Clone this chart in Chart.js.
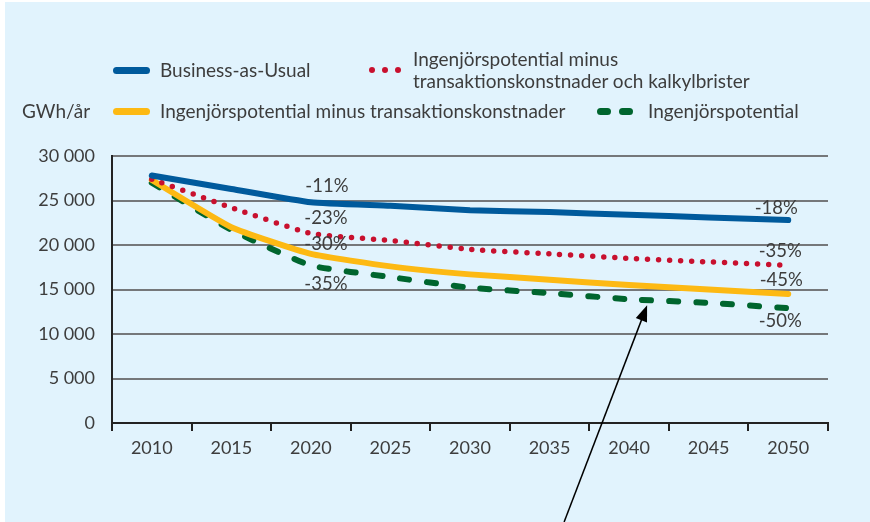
<!DOCTYPE html>
<html>
<head>
<meta charset="utf-8">
<script src="https://cdn.jsdelivr.net/npm/chart.js@4/dist/chart.umd.min.js"></script>
<style>
    body { margin: 0; background: #fff; font-family: Lato, sans-serif; color: #3d3d3d; }
    #wrap { position: relative; width: 870px; height: 522px; overflow: hidden; }
    #bg { position: absolute; left: 5px; top: 2px; right: 0; bottom: 0; background: #e1f3fd; }
    #box { position: absolute; left: 0; top: 0; width: 870px; height: 522px; }
    .lg { position: absolute; font-size: 19px; line-height: 22px; white-space: nowrap; }
    .sym { position: absolute; height: 7px; border-radius: 4px; }
    .dot { position: absolute; width: 6px; height: 6px; border-radius: 3px; background: #c8102e; }
</style>
</head>
<body>
<div id="wrap">
    <div id="bg"></div>
    <div id="box"><canvas id="chart"></canvas></div>

    <!-- legend -->
    <div class="sym" style="left:113px; top:67px; width:37px; background:#005a9c;"></div>
    <div class="lg" style="left:160px; top:59px;">Business-as-Usual</div>

    <div class="dot" style="left:369px; top:67px;"></div>
    <div class="dot" style="left:382px; top:67px;"></div>
    <div class="dot" style="left:395px; top:67px;"></div>
    <div class="lg" style="left:413px; top:48px;">Ingenjörspotential minus<br>transaktionskonstnader och kalkylbrister</div>

    <div class="lg" style="left:22px; top:100px;">GWh/år</div>
    <div class="sym" style="left:113px; top:108px; width:37px; background:#fdb913;"></div>
    <div class="lg" style="left:160px; top:100px;">Ingenjörspotential minus transaktionskonstnader</div>

    <div class="sym" style="left:597px; top:108px; width:14px; background:#00652e;"></div>
    <div class="sym" style="left:619px; top:108px; width:14px; background:#00652e;"></div>
    <div class="lg" style="left:648px; top:100px;">Ingenjörspotential</div>
</div>

<script>
// data (GWh/år)
const years = ['2010', '2015', '2020', '2025', '2030', '2035', '2040', '2045', '2050'];
const bau = [27800, 26300, 24800, 24400, 23900, 23700, 23400, 23100, 22800];
const minusTransKalk = [27400, 24200, 21300, 20500, 19500, 19000, 18500, 18100, 17700];
const minusTrans = [27300, 22000, 19000, 17600, 16700, 16100, 15500, 15000, 14500];
const ingenjor = [27000, 21700, 17700, 16400, 15200, 14600, 13900, 13500, 12900];
const yTicks = [0, 5000, 10000, 15000, 20000, 25000, 30000];

// procentetiketter: [serie, index, text]
const pctLabels = [
    [0, 2, '-11%'], [1, 2, '-23%'], [2, 2, '-30%'], [3, 2, '-35%'],
    [0, 8, '-18%'], [1, 8, '-35%'], [2, 8, '-45%'], [3, 8, '-50%']
];
// förskjutning i px för varje etikett
const pctOffset = [
    [16, -16], [15, -15], [15, -10], [15, 19],
    [-12, -12], [-8, -14], [-7, -14], [-8, 13]
];

const textColor = '#3d3d3d';

const labelPlugin = {
    id: 'pctLabels',
    afterDatasetsDraw(chart) {
        const ctx = chart.ctx;
        const x = chart.scales.x, y = chart.scales.y;
        ctx.save();
        ctx.font = '18.5px Lato';
        ctx.fillStyle = textColor;
        ctx.textAlign = 'center';
        ctx.textBaseline = 'middle';
        pctLabels.forEach((l, i) => {
            const v = chart.data.datasets[l[0]].data[l[1]];
            ctx.fillText(l[2], x.getPixelForValue(l[1]) + pctOffset[i][0], y.getPixelForValue(v) + pctOffset[i][1]);
        });

        // pil mot Ingenjörspotential-linjen
        const tipX = x.getPixelForValue(6) + 18;
        const tipY = y.getPixelForValue(ingenjor[6]) + 6;
        const tailX = tipX - 83;
        const tailY = chart.height;
        const ang = Math.atan2(tipY - tailY, tipX - tailX);
        ctx.strokeStyle = '#000';
        ctx.fillStyle = '#000';
        ctx.lineWidth = 1.5;
        ctx.beginPath();
        ctx.moveTo(tailX, tailY);
        ctx.lineTo(tipX - 14 * Math.cos(ang), tipY - 14 * Math.sin(ang));
        ctx.stroke();
        ctx.beginPath();
        ctx.moveTo(tipX, tipY);
        ctx.lineTo(tipX - 16 * Math.cos(ang) + 6 * Math.sin(ang), tipY - 16 * Math.sin(ang) - 6 * Math.cos(ang));
        ctx.lineTo(tipX - 16 * Math.cos(ang) - 6 * Math.sin(ang), tipY - 16 * Math.sin(ang) + 6 * Math.cos(ang));
        ctx.closePath();
        ctx.fill();
        ctx.restore();
    }
};

const ctx = document.getElementById('chart').getContext('2d');
const chart = new Chart(ctx, {
    type: 'line',
    data: {
        labels: years,
        datasets: [{
            label: 'Business-as-Usual',
            data: bau,
            borderColor: '#005a9c',
            borderWidth: 6,
            borderCapStyle: 'round'
        }, {
            label: 'Ingenjörspotential minus transaktionskonstnader och kalkylbrister',
            data: minusTransKalk,
            borderColor: '#c8102e',
            borderWidth: 5.5,
            borderDash: [0, 11],
            borderCapStyle: 'round'
        }, {
            label: 'Ingenjörspotential minus transaktionskonstnader',
            data: minusTrans,
            borderColor: '#fdb913',
            borderWidth: 6,
            borderCapStyle: 'round'
        }, {
            label: 'Ingenjörspotential',
            data: ingenjor,
            borderColor: '#00652e',
            borderWidth: 6,
            borderDash: [9, 18],
            borderCapStyle: 'round'
        }]
    },
    options: {
        responsive: true,
        maintainAspectRatio: false,
        animation: false,
        layout: { padding: { top: 156, right: 42, left: 0, bottom: 0 } },
        elements: { point: { radius: 0 }, line: { tension: 0.15 } },
        plugins: { legend: { display: false }, tooltip: { enabled: false } },
        scales: {
            x: {
                offset: true,
                afterFit(s) { s.height = 99; },
                grid: { drawOnChartArea: false, offset: true, tickLength: 8, color: '#222', lineWidth: 2 },
                border: { color: '#222', width: 2 },
                ticks: { color: textColor, font: { family: 'Lato', size: 18 }, padding: 6, maxRotation: 0 }
            },
            y: {
                min: 0,
                max: 30000,
                afterFit(s) { s.width = 112; },
                afterBuildTicks(s) { s.ticks = yTicks.map(v => ({ value: v })); },
                grid: { color: '#75777a', lineWidth: 2, drawTicks: false },
                border: { color: '#222', width: 2 },
                ticks: {
                    color: textColor,
                    font: { family: 'Lato', size: 18 },
                    padding: 17,
                    callback: v => v.toLocaleString('sv-SE').replace(/\s/g, ' ')
                }
            }
        }
    },
    plugins: [labelPlugin]
});
</script>
</body>
</html>
